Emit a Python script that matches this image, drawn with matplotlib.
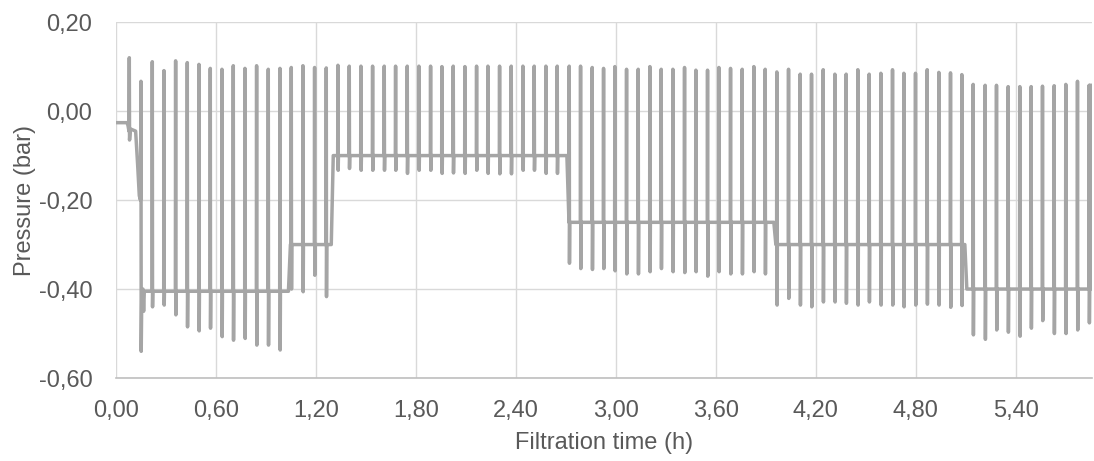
import numpy as np
import matplotlib
matplotlib.use('Agg')
import matplotlib.pyplot as plt

plt.rcParams['font.family'] = ['Liberation Sans', 'DejaVu Sans']

# start of the run (before the regular filtration cycles), time in h, pressure in bar
start_t = [0.000, 0.066, 0.072, 0.078, 0.080, 0.0815, 0.086, 0.118, 0.130, 0.140, 0.147,
           0.150, 0.1515, 0.155, 0.162, 0.166, 0.170]
start_p = [-0.026, -0.026, -0.032, -0.045, 0.120, -0.065, -0.040, -0.045, -0.120, -0.190, -0.200,
           0.067, -0.540, -0.410, -0.400, -0.450, -0.405]

# baseline level of each filtration stage and the times where it steps
stage_level = [-0.405, -0.300, -0.100, -0.250, -0.300, -0.400]
step_t = [1.035, 1.292, 2.706, 3.948, 5.094]

# backpulse cycles: time, top value, bottom value
pulse_t = [0.218, 0.288, 0.358, 0.428, 0.498, 0.566, 0.636, 0.704, 0.774, 0.844,
           0.914, 0.984, 1.052, 1.122, 1.192, 1.262, 1.332, 1.400, 1.470, 1.540,
           1.610, 1.678, 1.748, 1.818, 1.888, 1.956, 2.024, 2.094, 2.164, 2.232,
           2.302, 2.372, 2.442, 2.510, 2.580, 2.648, 2.720, 2.788, 2.858, 2.926,
           2.994, 3.064, 3.134, 3.204, 3.272, 3.342, 3.412, 3.480, 3.550, 3.618,
           3.688, 3.758, 3.828, 3.896, 3.966, 4.036, 4.106, 4.174, 4.244, 4.314,
           4.382, 4.452, 4.520, 4.590, 4.660, 4.728, 4.798, 4.868, 4.938, 5.008,
           5.076, 5.144, 5.216, 5.284, 5.354, 5.424, 5.492, 5.560, 5.630, 5.700,
           5.770, 5.840]
pulse_peak = [0.111, 0.091, 0.113, 0.109, 0.105, 0.096, 0.094, 0.102, 0.096, 0.102,
              0.094, 0.096, 0.098, 0.102, 0.098, 0.097, 0.103, 0.101, 0.101, 0.101,
              0.101, 0.101, 0.101, 0.101, 0.101, 0.100, 0.101, 0.100, 0.101, 0.101,
              0.101, 0.101, 0.101, 0.101, 0.101, 0.101, 0.101, 0.101, 0.098, 0.096,
              0.100, 0.094, 0.094, 0.100, 0.094, 0.094, 0.098, 0.092, 0.092, 0.098,
              0.096, 0.094, 0.100, 0.094, 0.088, 0.094, 0.083, 0.083, 0.093, 0.083,
              0.083, 0.093, 0.083, 0.085, 0.093, 0.085, 0.085, 0.093, 0.087, 0.086,
              0.082, 0.060, 0.058, 0.058, 0.055, 0.055, 0.055, 0.056, 0.057, 0.060,
              0.067, 0.058]
pulse_dip = [-0.440, -0.436, -0.458, -0.485, -0.494, -0.488, -0.507, -0.515, -0.511, -0.526,
             -0.526, -0.537, -0.400, -0.406, -0.369, -0.417, -0.133, -0.129, -0.133, -0.133,
             -0.133, -0.133, -0.140, -0.133, -0.133, -0.140, -0.139, -0.140, -0.133, -0.140,
             -0.141, -0.141, -0.133, -0.133, -0.140, -0.140, -0.342, -0.354, -0.356, -0.354,
             -0.359, -0.366, -0.366, -0.361, -0.354, -0.361, -0.363, -0.361, -0.371, -0.361,
             -0.366, -0.366, -0.361, -0.366, -0.436, -0.421, -0.436, -0.440, -0.429, -0.429,
             -0.432, -0.436, -0.429, -0.436, -0.436, -0.440, -0.436, -0.434, -0.436, -0.441,
             -0.437, -0.503, -0.513, -0.492, -0.497, -0.506, -0.488, -0.471, -0.500, -0.500,
             -0.492, -0.476]

# last samples of the run
end_t = [5.849, 5.851]
end_p = [-0.400, 0.058]

x_ticks = [0.0, 0.6, 1.2, 1.8, 2.4, 3.0, 3.6, 4.2, 4.8, 5.4]
y_ticks = [-0.6, -0.4, -0.2, 0.0, 0.2]

# build the trace
w = 0.0015
pts = list(zip(start_t, start_p))
for i, t in enumerate(step_t):
    pts.append((t, stage_level[i]))
    pts.append((t + 0.012, stage_level[i + 1]))
for t, pk, dp in zip(pulse_t, pulse_peak, pulse_dip):
    base = stage_level[np.searchsorted(step_t, t)]
    pts += [(t - w, base), (t, pk), (t + w, dp), (t + 2 * w, base)]
pts += list(zip(end_t, end_p))
pts.sort(key=lambda p: p[0])
tt = [p[0] for p in pts]
pp = [p[1] for p in pts]

fig = plt.figure(figsize=(10.94, 4.61), dpi=100)
ax = fig.add_axes([0.106, 0.180, 0.892, 0.772])

ax.plot(tt, pp, color='#A5A5A5', linewidth=2.5, solid_joinstyle='round', zorder=3)

ax.set_xlim(0, 5.856)
ax.set_ylim(-0.6, 0.2)
ax.set_xticks(x_ticks)
ax.set_yticks(y_ticks)
ax.set_xticklabels([f"{v:.2f}".replace('.', ',') for v in x_ticks])
ax.set_yticklabels([f"{v:.2f}".replace('.', ',') for v in y_ticks])

ax.grid(True, color='#D9D9D9', linewidth=1.0, zorder=0)
for s in ['top', 'right', 'left']:
    ax.spines[s].set_visible(False)
ax.spines['bottom'].set_color('#BFBFBF')
ax.spines['bottom'].set_linewidth(1.2)

ax.tick_params(axis='both', length=0, labelsize=17, colors='#595959')
ax.tick_params(axis='y', pad=17)
ax.tick_params(axis='x', pad=16)

ax.set_xlabel("Filtration time (h)", fontsize=17, color='#595959', labelpad=7)
ax.set_ylabel("Pressure (bar)", fontsize=17, color='#595959', labelpad=2)

plt.savefig('out.png', dpi=100)
